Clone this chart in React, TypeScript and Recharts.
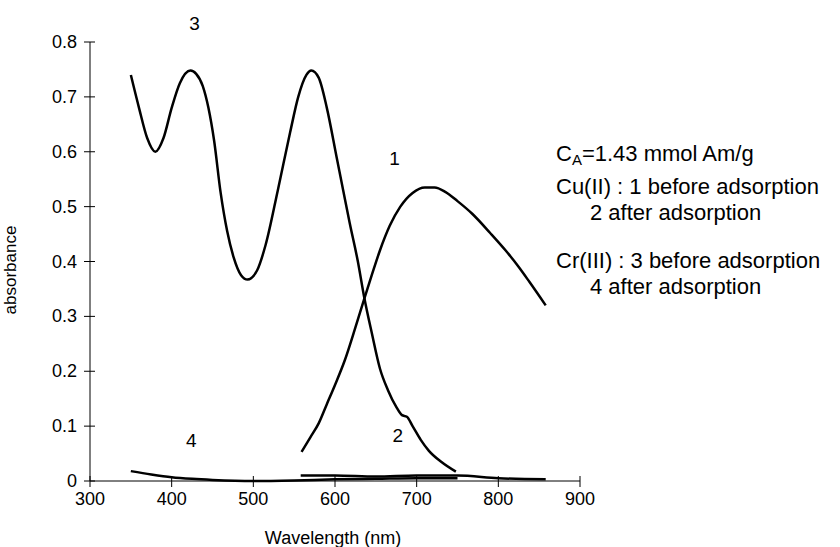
import { LineChart, Line, XAxis, YAxis, ReferenceDot } from "recharts";

// curve 1: Cu(II) before adsorption
const cuBeforeNm = [559, 570, 580, 590, 600, 612, 625, 636, 645, 655, 667, 680, 695, 710, 722, 735, 750, 768, 790, 809, 825, 838, 858];
const cuBeforeAbs = [0.053, 0.08, 0.105, 0.14, 0.175, 0.22, 0.28, 0.333, 0.375, 0.42, 0.465, 0.5, 0.525, 0.535, 0.535, 0.527, 0.51, 0.487, 0.452, 0.42, 0.39, 0.363, 0.32];

// curve 2: Cu(II) after adsorption
const cuAfterNm = [558, 600, 650, 700, 750, 800, 858];
const cuAfterAbs = [0.01, 0.01, 0.008, 0.01, 0.01, 0.005, 0.003];

// curve 3: Cr(III) before adsorption
const crBeforeNm = [350, 360, 370, 380, 390, 400, 410, 423, 430, 438, 445, 452, 460, 468, 476, 485, 493, 505, 515, 530, 545, 555, 565, 571, 580, 590, 602, 610, 618, 628, 636, 645, 655, 665, 675, 682, 688, 695, 705, 715, 730, 748];
const crBeforeAbs = [0.74, 0.68, 0.625, 0.6, 0.625, 0.68, 0.725, 0.748, 0.742, 0.72, 0.68, 0.62, 0.525, 0.455, 0.407, 0.375, 0.367, 0.385, 0.43, 0.53, 0.635, 0.7, 0.74, 0.748, 0.735, 0.68, 0.59, 0.53, 0.47, 0.4, 0.333, 0.27, 0.205, 0.165, 0.135, 0.12, 0.117, 0.1, 0.075, 0.055, 0.035, 0.017];

// curve 4: Cr(III) after adsorption
const crAfterNm = [350, 375, 400, 425, 450, 500, 550, 600, 650, 700, 750];
const crAfterAbs = [0.018, 0.012, 0.007, 0.004, 0.002, 0, 0.001, 0.003, 0.004, 0.005, 0.005];

const xTicks = [300, 400, 500, 600, 700, 800, 900];
const yTicks = [0, 0.1, 0.2, 0.3, 0.4, 0.5, 0.6, 0.7, 0.8];

// curve number labels: [nm, absorbance, text]
const curveLabels: [number, number, string][] = [
  [673, 0.589, "1"],
  [677, 0.084, "2"],
  [428, 0.835, "3"],
  [424, 0.075, "4"],
];

const toRows = (nm: number[], abs: number[]) => nm.map((x, i) => ({ nm: x, abs: abs[i] }));

const FONT = "'Liberation Sans', Arial, sans-serif";

const XTick = (props: any) => {
  const { x, y, payload } = props;
  return (
    <g>
      <line x1={x} x2={x} y1={y - 5} y2={y + 6} stroke="#000" />
      <text x={x} y={y + 24} textAnchor="middle" fontSize={18} fontFamily={FONT} fill="#000">
        {payload.value}
      </text>
    </g>
  );
};

const YTick = (props: any) => {
  const { x, y, payload } = props;
  return (
    <g>
      <line x1={x - 6} x2={x + 5} y1={y} y2={y} stroke="#000" />
      <text x={x - 13} y={y + 6} textAnchor="end" fontSize={18} fontFamily={FONT} fill="#000">
        {payload.value === 0 ? "0" : payload.value}
      </text>
    </g>
  );
};

const textStyle: React.CSSProperties = { position: "absolute", fontFamily: FONT, color: "#000", whiteSpace: "nowrap", lineHeight: 1 };

export default function App() {
  return (
    <div style={{ position: "absolute", left: 0, top: 0, width: 840, height: 547, background: "#fff" }}>
      <LineChart width={840} height={547} margin={{ top: 42, right: 260, bottom: 36, left: 40 }}>
        <XAxis
          type="number"
          dataKey="nm"
          domain={[300, 900]}
          ticks={xTicks}
          allowDuplicatedCategory={false}
          height={30}
          stroke="#000"
          tickLine={false}
          tickSize={0}
          tickMargin={0}
          tick={<XTick />}
        />
        <YAxis
          type="number"
          domain={[0, 0.8]}
          ticks={yTicks}
          width={50}
          stroke="#000"
          tickLine={false}
          tickSize={0}
          tickMargin={0}
          tick={<YTick />}
        />
        <Line data={toRows(crBeforeNm, crBeforeAbs)} dataKey="abs" type="monotone" stroke="#000" strokeWidth={2.5} dot={false} isAnimationActive={false} />
        <Line data={toRows(cuBeforeNm, cuBeforeAbs)} dataKey="abs" type="monotone" stroke="#000" strokeWidth={2.5} dot={false} isAnimationActive={false} />
        <Line data={toRows(cuAfterNm, cuAfterAbs)} dataKey="abs" type="monotone" stroke="#000" strokeWidth={2.5} dot={false} isAnimationActive={false} />
        <Line data={toRows(crAfterNm, crAfterAbs)} dataKey="abs" type="monotone" stroke="#000" strokeWidth={2.5} dot={false} isAnimationActive={false} />
        {curveLabels.map(([x, y, t]) => (
          <ReferenceDot
            key={t}
            x={x}
            y={y}
            r={0}
            ifOverflow="visible"
            fill="none"
            stroke="none"
            label={{ value: t, position: "center", fontSize: 19, fontFamily: FONT, fill: "#000" }}
          />
        ))}
      </LineChart>
      <div style={{ ...textStyle, left: 10, top: 270, fontSize: 17, transform: "translate(-50%, -50%) rotate(-90deg)", transformOrigin: "center" }}>
        absorbance
      </div>
      <div style={{ ...textStyle, left: 333, top: 538, fontSize: 18, transform: "translate(-50%, -50%)" }}>
        Wavelength (nm)
      </div>
      <div style={{ ...textStyle, left: 556, top: 143, fontSize: 22 }}>
        C<sub style={{ fontSize: 15, verticalAlign: -4 }}>A</sub>=1.43 mmol Am/g
      </div>
      <div style={{ ...textStyle, left: 556, top: 174, fontSize: 22, lineHeight: "26px" }}>
        Cu(II) : 1 before adsorption
        <br />
        <span style={{ paddingLeft: 34 }}>2 after adsorption</span>
      </div>
      <div style={{ ...textStyle, left: 556, top: 248, fontSize: 22, lineHeight: "26px" }}>
        Cr(III) : 3 before adsorption
        <br />
        <span style={{ paddingLeft: 34 }}>4 after adsorption</span>
      </div>
    </div>
  );
}
